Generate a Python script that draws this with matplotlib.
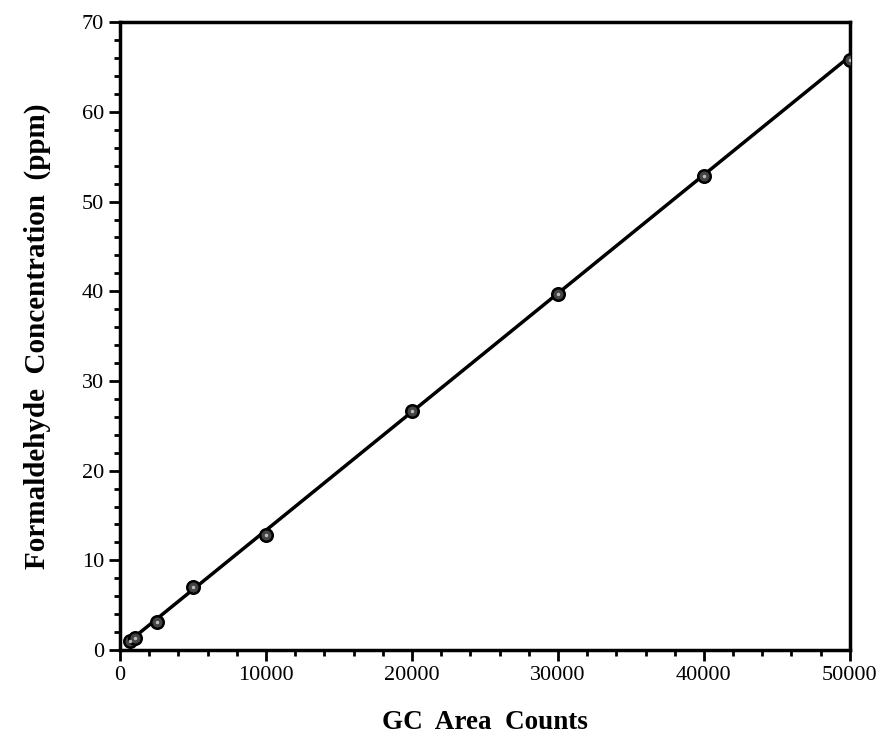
import matplotlib
matplotlib.use("Agg")
import matplotlib.pyplot as plt
from matplotlib.ticker import MultipleLocator

area_counts = [700, 1000, 2500, 5000, 10000, 20000, 30000, 40000, 50000]
concentration = [1.0, 1.3, 3.1, 7.0, 12.8, 26.7, 39.7, 52.9, 65.8]
fit_x = [500, 50000]
fit_y = [0.8, 66.2]

plt.rcParams['font.family'] = ['Liberation Serif', 'DejaVu Serif']

fig = plt.figure(figsize=(8.89, 7.42), dpi=100)
ax = fig.add_axes([0.135, 0.124, 0.821, 0.846])

ax.plot(fit_x, fit_y, color='black', lw=2.5, zorder=2)
ax.plot(area_counts, concentration, 'o', ms=9, mfc='#444444', mec='black', mew=1.8, zorder=3)
ax.plot(area_counts, concentration, '.', ms=3, color='#bbbbbb', zorder=4)

ax.set_xlim(0, 50000)
ax.set_ylim(0, 70)
ax.xaxis.set_major_locator(MultipleLocator(10000))
ax.xaxis.set_minor_locator(MultipleLocator(2000))
ax.yaxis.set_major_locator(MultipleLocator(10))
ax.yaxis.set_minor_locator(MultipleLocator(2))
ax.tick_params(which='both', direction='out', width=2, top=False, right=False, labelsize=16)
ax.tick_params(which='major', length=8)
ax.tick_params(which='minor', length=4)
for s in ax.spines.values():
    s.set_linewidth(2.5)

ax.set_xlabel('GC  Area  Counts', fontsize=19.5, fontweight='bold', labelpad=18)
ax.set_ylabel('Formaldehyde  Concentration  (ppm)', fontsize=21, fontweight='bold', labelpad=22)

fig.savefig('out.png', dpi=100)
